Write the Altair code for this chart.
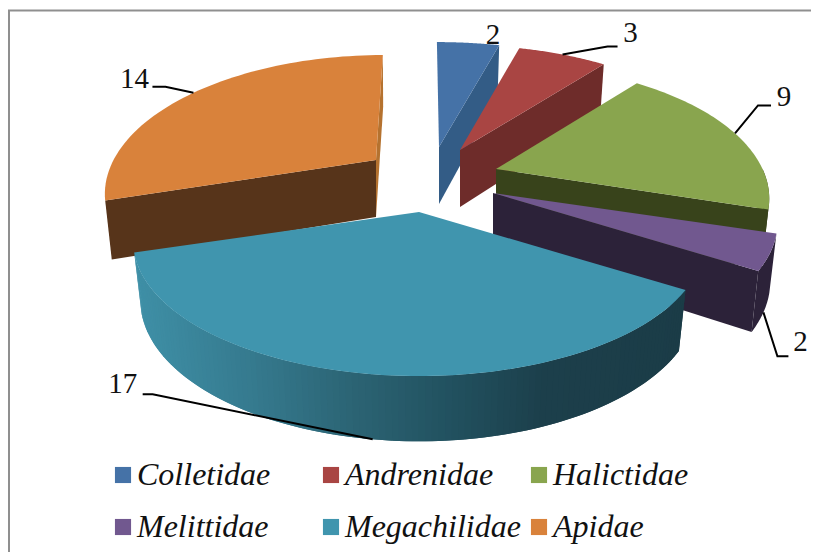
import math
import altair as alt

# --- data ---
families = ["Colletidae", "Andrenidae", "Halictidae", "Melittidae", "Megachilidae", "Apidae"]
counts = [2, 3, 9, 2, 17, 14]
top_colors = ["#4572A7", "#A94543", "#89A54E", "#71588F", "#4095AE", "#D9823B"]
wall_colors = ["#335C86", "#6E2C2A", "#38431B", "#2C2239", "#1B3C47", "#57341A"]
sliver_color = "#B5722F"
# the legend fills column by column, so this order reads row by row as in the picture
legend_order = ["Colletidae", "Melittidae", "Andrenidae", "Megachilidae", "Halictidae", "Apidae"]

# --- layout of the exploded perspective pie (page pixels) ---
apex_x = [439, 460, 496, 493, 419, 376]
apex_y = [147, 150, 169, 193, 212, 160]
shear = [-0.02, 0, 0, 0, 0, 0.065]
rx_scale = [1.05, 1.0, 0.98, 1.02, 1.025, 0.965]
RX, RY, PERSP, DEPTH = 272.0, 128.0, 0.22, 57.0
RX_BOTTOM, RY_BOTTOM = 0.975, 1.05
STEPS = 60

# gradient of the large slice's rim, by page x
rim_stops = [(130, "#3F90A7"), (250, "#35798D"), (350, "#2B6373"), (450, "#21505E"),
             (540, "#1C3F4B"), (690, "#1B3C47")]

# leader elbows and ends relative to the slice's anchor, and the label relative to the end
leader_from_bottom = [False, False, False, True, True, False]
leader_elbow = [(0, 0), (45, -8), (23, -28), (14, 44), (-220, -45), (-28, -6)]
leader_end = [(0, 0), (55, -8), (36, -28), (25, 44), (-230, -45), (-41, -6)]
label_shift = [(0, 0), (13, -14), (13, -8), (12, -14), (-20, -10), (-18, -8)]
label_fixed = {0: (493, 35)}

total = sum(counts)
cum = [0.0]
for c in counts:
    cum.append(cum[-1] + c / total * 2 * math.pi)


def top_pt(i, t):
    w = 1 / (1 + PERSP * math.cos(t))
    dy = -RY * math.cos(t) * w
    return [apex_x[i] + RX * rx_scale[i] * math.sin(t) * w - shear[i] * dy, apex_y[i] + dy]


def bot_pt(i, t):
    w = 1 / (1 + PERSP * math.cos(t))
    dy = -RY * RY_BOTTOM * math.cos(t) * w
    return [apex_x[i] + RX * rx_scale[i] * RX_BOTTOM * math.sin(t) * w - shear[i] * dy,
            apex_y[i] + DEPTH + dy]


def arc(fn, i, a, b, n=STEPS):
    return [fn(i, a + (b - a) * k / n) for k in range(n + 1)]


def feature(points, name, fill):
    ring = [list(p) for p in points]
    ring.append(ring[0])
    return {"type": "Feature", "geometry": {"type": "Polygon", "coordinates": [ring]},
            "properties": {"name": name, "fill": fill}}


def radial(i, t, fill):
    return feature([[apex_x[i], apex_y[i]], top_pt(i, t), bot_pt(i, t),
                    [apex_x[i], apex_y[i] + DEPTH]], families[i], fill)


def outer(i, a, b, fill):
    return feature(arc(top_pt, i, a, b, 24) + arc(bot_pt, i, a, b, 24)[::-1], families[i], fill)


def rim_color(x):
    for (x0, c0), (x1, c1) in zip(rim_stops, rim_stops[1:]):
        if x <= x1:
            f = max(0.0, (x - x0) / (x1 - x0))
            mix = [round(int(c0[j:j + 2], 16) * (1 - f) + int(c1[j:j + 2], 16) * f) for j in (1, 3, 5)]
            return "#%02X%02X%02X" % tuple(mix)
    return rim_stops[-1][1]


walls = [
    radial(0, cum[1], wall_colors[0]),
    radial(1, cum[2], wall_colors[1]),
    outer(2, math.pi / 2, cum[3], wall_colors[2]),
    radial(2, cum[3], wall_colors[2]),
    outer(3, cum[3], cum[4], wall_colors[3]),
    radial(3, cum[4], wall_colors[3]),
    radial(5, cum[5], wall_colors[5]),
    radial(5, cum[6], sliver_color),
]
# rim of the large slice: each band runs one step under its neighbour so no hairline shows
BANDS = 120
span = cum[5] - cum[4]
for k in range(BANDS):
    a = cum[4] + span * k / BANDS
    b = cum[4] + span * (k + 1) / BANDS
    a2 = max(cum[4], a - span / BANDS)
    xm = top_pt(4, (a + b) / 2)[0]
    walls.append(feature([top_pt(4, a2), top_pt(4, b), bot_pt(4, b), bot_pt(4, a2)], families[4], rim_color(xm)))

tops = [feature([[apex_x[i], apex_y[i]]] + arc(top_pt, i, cum[i], cum[i + 1]), families[i], top_colors[i])
        for i in range(len(counts))]

leaders = []
labels = []
for i, c in enumerate(counts):
    mid = (cum[i] + cum[i + 1]) / 2
    anchor = bot_pt(i, mid) if leader_from_bottom[i] else top_pt(i, mid)
    if i in label_fixed:
        labels.append({"x": label_fixed[i][0] - 8, "y": label_fixed[i][1] - 8, "t": str(c)})
        continue
    elbow = [anchor[0] + leader_elbow[i][0], anchor[1] + leader_elbow[i][1]]
    end = [anchor[0] + leader_end[i][0], anchor[1] + leader_end[i][1]]
    leaders.append({"type": "Feature", "properties": {"name": families[i]},
                    "geometry": {"type": "LineString", "coordinates": [anchor, elbow, end]}})
    labels.append({"x": end[0] + label_shift[i][0] - 8, "y": end[1] + label_shift[i][1] - 8, "t": str(c)})

proj = dict(type="identity", scale=1, translate=[-8, -8])

frame_left = alt.Chart(alt.Data(values=[{"a": 0}])).mark_rule(color="#8F8F8F", strokeWidth=2).encode(
    x=alt.value(1), y=alt.value(2), y2=alt.value(544))
frame_top = alt.Chart(alt.Data(values=[{"a": 0}])).mark_rule(color="#8F8F8F", strokeWidth=2).encode(
    y=alt.value(2.5), x=alt.value(0), x2=alt.value(803))

wall_layer = alt.Chart(alt.Data(values=walls)).mark_geoshape(strokeWidth=0, stroke=None).encode(
    fill=alt.Fill("properties.fill:N", scale=None, legend=None),
).project(**proj)

top_layer = alt.Chart(alt.Data(values=tops)).mark_geoshape(strokeWidth=0, stroke=None).encode(
    fill=alt.Fill("properties.name:N",
                  scale=alt.Scale(domain=legend_order,
                                  range=[top_colors[families.index(n)] for n in legend_order]),
                  sort=legend_order,
                  legend=alt.Legend(orient="none", legendX=99, legendY=451, title=None, columns=3,
                                    padding=0, gridAlign="all", columnPadding=2, rowPadding=20,
                                    symbolType="square", symbolSize=260, symbolStrokeWidth=0,
                                    labelFont="Liberation Serif", labelFontStyle="italic",
                                    labelFontSize=32, labelColor="#111111",
                                    labelOffset={"expr": "-2"},
                                    labelLimit=300)),
).project(**proj)

leader_layer = alt.Chart(alt.Data(values=leaders)).mark_geoshape(
    filled=False, stroke="#000000", strokeWidth=2).project(**proj)

label_layer = alt.Chart(alt.Data(values=labels)).mark_text(
    font="Liberation Serif", fontSize=29, color="#111111", align="center", baseline="middle"
).encode(x=alt.X("x:Q", scale=None, axis=None), y=alt.Y("y:Q", scale=None, axis=None), text="t:N")

chart = alt.layer(frame_left, frame_top, wall_layer, top_layer, leader_layer, label_layer).resolve_scale(
    fill="independent"
).resolve_legend(fill="independent").properties(
    width=803, height=544, background="white", padding=0,
    autosize=alt.AutoSizeParams(type="none"),
).configure_view(stroke=None)

chart.save("out.html", embed_options={"renderer": "svg", "actions": False})
